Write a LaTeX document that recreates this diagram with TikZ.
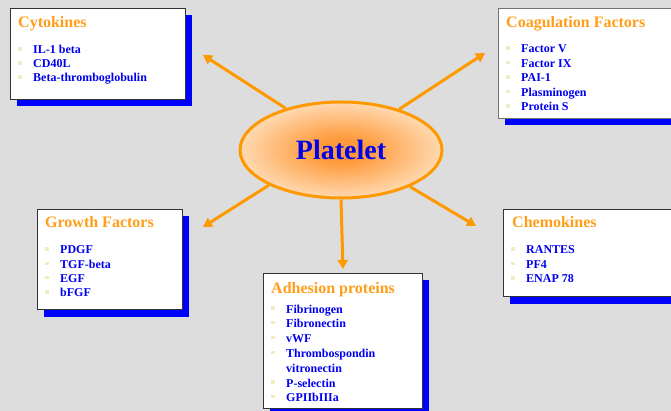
\documentclass[tikz,border=0pt]{standalone}
\usepackage{fontspec}
\setmainfont{Liberation Serif}
\usetikzlibrary{shadows,arrows.meta,shapes.geometric}
\definecolor{bg}{HTML}{DDDDDD}
\definecolor{org}{HTML}{FF9900}
\definecolor{ttl}{HTML}{FF9E1A}
\definecolor{itb}{HTML}{0000F0}
\definecolor{bul}{HTML}{EEEEC4}
\definecolor{pcore}{HTML}{FF9A3A}
\definecolor{pouter}{HTML}{FFF1DE}
\pgfdeclareradialshading{plshade}{\pgfpoint{0bp}{0bp}}{color(0bp)=(pcore); color(6bp)=(pcore); color(32bp)=(pouter); color(50bp)=(pouter)}
\tikzset{
  box/.style={draw=black!80, line width=1pt, fill=white, anchor=north west, inner sep=0pt,
    drop shadow={shadow xshift=6pt, shadow yshift=-7pt, fill=blue, opacity=1}},
  ttltxt/.style={anchor=base west, inner sep=0pt, text=ttl, font=\fontsize{16}{18}\selectfont\bfseries},
  itemtxt/.style={anchor=base west, inner sep=0pt, text=itb, font=\fontsize{12}{14}\selectfont\bfseries},
  conn/.style={draw=org, line width=3pt, -{Triangle[length=9pt,width=10pt]}},
}
\newcommand{\bulat}[2]{\pgfmathsetmacro\bulY{#2}\fill[bul] (#1-1.6,\bulY-6.6) rectangle (#1+1.6,\bulY-3.4);}
\begin{document}
\begin{tikzpicture}[x=1pt,y=-1pt]
\fill[bg] (0,0) rectangle (671,411);
\clip (0,0) rectangle (671,411);
\useasboundingbox (0,0) rectangle (671,411);

% boxes
\node[box, minimum width=175pt, minimum height=91pt] (cyto) at (10,8) {};
\node[box, draw=black!55, minimum width=185pt, minimum height=110pt] (coag) at (498,8) {};
\node[box, minimum width=145pt, minimum height=100pt] (grow) at (37,209) {};
\node[box, minimum width=180pt, minimum height=87pt] (chem) at (503,209) {};
\node[box, minimum width=159pt, minimum height=135pt] (adh) at (263,273) {};

% titles
\node[ttltxt] (tcyto) at (18,28) {Cytokines};
\node[ttltxt] (tcoag) at (506,28) {Coagulation Factors};
\node[ttltxt] (tgrow) at (45,228) {Growth Factors};
\node[ttltxt] (tchem) at (512,228) {Chemokines};
\node[ttltxt] (tadh) at (271,293) {Adhesion proteins};

% items
\foreach \t [count=\i] in {IL-1 beta, CD40L, Beta-thromboglobulin} {
  \node[itemtxt] (cy\i) at (33,{54+14*(\i-1)}) {\t};
  \bulat{20}{54+14*(\i-1)}
}
\foreach \t [count=\i] in {Factor V, Factor IX, PAI-1, Plasminogen, Protein S} {
  \node[itemtxt] (co\i) at (521,{53+14.5*(\i-1)}) {\t};
  \bulat{508}{53+14.5*(\i-1)}
}
\foreach \t [count=\i] in {PDGF, TGF-beta, EGF, bFGF} {
  \node[itemtxt] (gr\i) at (60,{254+14.33*(\i-1)}) {\t};
  \bulat{47}{254+14.33*(\i-1)}
}
\foreach \t [count=\i] in {RANTES, PF4, ENAP 78} {
  \node[itemtxt] (ch\i) at (526,{254+14.5*(\i-1)}) {\t};
  \bulat{513}{254+14.5*(\i-1)}
}
\foreach \t/\b [count=\i] in {Fibrinogen/1, Fibronectin/1, vWF/1, Thrombospondin/1, vitronectin/0, P-selectin/1, GPIIbIIIa/1} {
  \node[itemtxt] (ad\i) at (286,{313+14.8*(\i-1)}) {\t};
  \ifnum\b=1 \bulat{273}{313+14.8*(\i-1)}\fi
}

% central ellipse
\node[ellipse, draw=org, line width=3pt, shading=plshade, minimum width=202pt, minimum height=96pt,
  text=blue!93!black, font=\fontsize{28}{30}\selectfont\bfseries] (pl) at (341,150) {Platelet};

% arrow tips
\coordinate (ecyto) at (203,55);
\coordinate (ecoag) at (485,53);
\coordinate (egrow) at (203,227);
\coordinate (echem) at (476,226);
\coordinate (eadh) at (343,269);

\draw[conn] (pl.143) -- (ecyto);
\draw[conn] (pl.35) -- (ecoag);
\draw[conn] (pl.206) -- (egrow);
\draw[conn] (pl.332) -- (echem);
\draw[conn] (pl.270) -- (eadh);
\end{tikzpicture}
\end{document}
